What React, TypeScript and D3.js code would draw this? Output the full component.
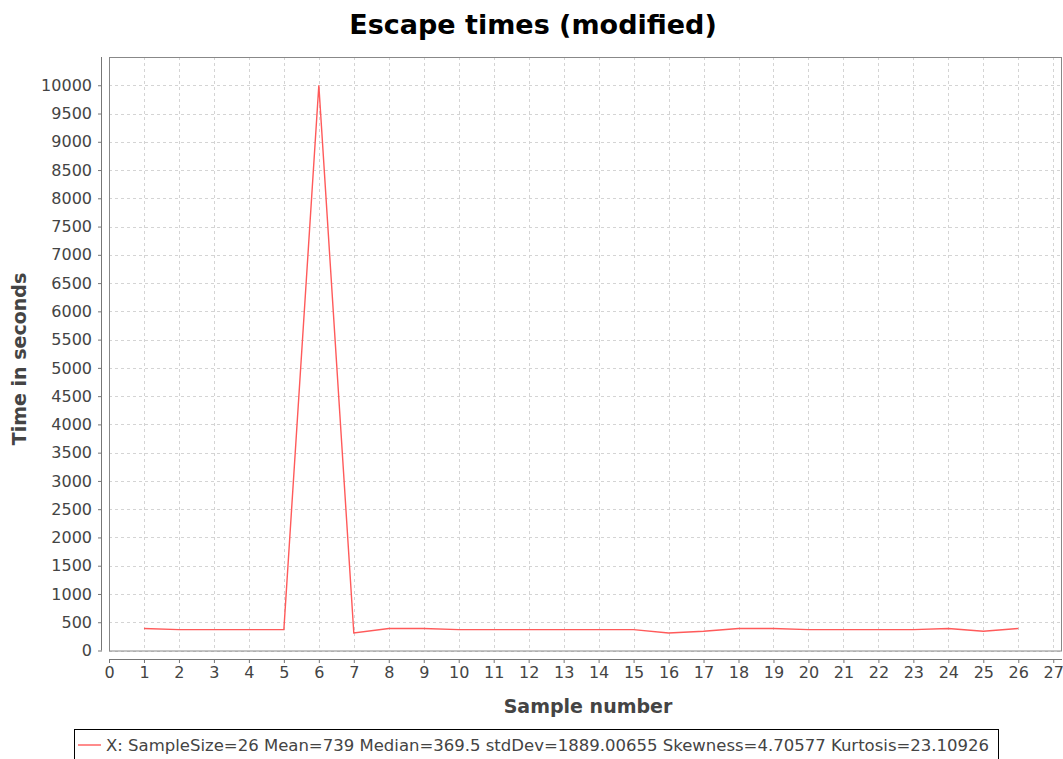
import React, { useEffect, useRef } from "react";
import * as d3 from "d3";

// sample numbers and escape times
const samples = [1, 2, 3, 4, 5, 6, 7, 8, 9, 10, 11, 12, 13, 14, 15, 16, 17, 18, 19, 20, 21, 22, 23, 24, 25, 26];
const times = [390, 369, 370, 370, 370, 10000, 310, 390, 390, 370, 370, 370, 370, 370, 370, 310, 340, 390, 390, 370, 370, 370, 370, 390, 340, 390];

const xTicks = d3.range(0, 28);
const yTicks = d3.range(0, 10001, 500);

const title = "Escape times (modified)";
const xLabel = "Sample number";
const yLabel = "Time in seconds";
const legendText = "X: SampleSize=26 Mean=739 Median=369.5 stdDev=1889.00655 Skewness=4.70577 Kurtosis=23.10926";

const App = () => {
  const svgRef = useRef<SVGSVGElement>(null);

  useEffect(() => {
    const svg = d3.select(svgRef.current);
    svg.selectAll("*").remove();

    const width = 1063;
    const height = 759;
    const plot = { left: 109, right: 1062, top: 57, bottom: 650.5 };
    const font = "DejaVu Sans, sans-serif";

    const x = d3.scaleLinear().domain([0, 27.25]).range([plot.left, plot.right]);
    const y = d3.scaleLinear().domain([0, 10500]).range([plot.bottom, plot.top]);

    svg.append("rect").attr("width", width).attr("height", height).attr("fill", "#fff");

    // grid
    const grid = svg.append("g").attr("stroke", "#d4d4d4").attr("stroke-dasharray", "3,3").attr("stroke-width", 1);
    grid.selectAll("line.v")
      .data(xTicks)
      .enter()
      .append("line")
      .attr("x1", d => Math.round(x(d)) + 0.5)
      .attr("x2", d => Math.round(x(d)) + 0.5)
      .attr("y1", plot.top)
      .attr("y2", plot.bottom);
    grid.selectAll("line.h")
      .data(yTicks)
      .enter()
      .append("line")
      .attr("x1", plot.left)
      .attr("x2", plot.right)
      .attr("y1", d => Math.round(y(d)) + 0.5)
      .attr("y2", d => Math.round(y(d)) + 0.5);

    // plot border
    svg.append("rect")
      .attr("x", plot.left + 0.5)
      .attr("y", plot.top + 0.5)
      .attr("width", plot.right - plot.left - 1)
      .attr("height", plot.bottom - plot.top)
      .attr("fill", "none")
      .attr("stroke", "#888");

    // axes
    const xAxis = svg.append("g")
      .attr("transform", "translate(0,659)")
      .call(d3.axisBottom(x).tickValues(xTicks).tickSize(4).tickPadding(4).tickSizeOuter(0));
    xAxis.select(".domain").attr("stroke", "#777").attr("d", `M${plot.left},0.5H${plot.right}`);
    xAxis.selectAll(".tick line").attr("stroke", "#777");
    xAxis.selectAll("text").attr("fill", "#444").style("font-family", font).style("font-size", "16px");

    const yAxis = svg.append("g")
      .attr("transform", "translate(102,0)")
      .call(d3.axisLeft(y).tickValues(yTicks).tickFormat(d3.format("d")).tickSize(4).tickPadding(6).tickSizeOuter(0));
    yAxis.select(".domain").attr("stroke", "#777").attr("d", `M-0.5,${plot.top}V${plot.bottom}`);
    yAxis.selectAll(".tick line").attr("stroke", "#777");
    yAxis.selectAll("text").attr("fill", "#444").style("font-family", font).style("font-size", "16px");

    // series line
    const line = d3.line<number>()
      .x((d, i) => x(samples[i]))
      .y(d => y(d));
    svg.append("path")
      .datum(times)
      .attr("d", line)
      .attr("fill", "none")
      .attr("stroke", "#ff5a5a")
      .attr("stroke-width", 1.4);

    // title
    svg.append("text")
      .attr("x", 533)
      .attr("y", 34)
      .attr("text-anchor", "middle")
      .style("font-family", font)
      .style("font-weight", "bold")
      .style("font-size", "27px")
      .attr("fill", "#000")
      .text(title);

    // axis labels
    svg.append("text")
      .attr("x", 588)
      .attr("y", 713)
      .attr("text-anchor", "middle")
      .style("font-family", font)
      .style("font-weight", "bold")
      .style("font-size", "19px")
      .attr("fill", "#444")
      .text(xLabel);

    svg.append("text")
      .attr("transform", "translate(26,359) rotate(-90)")
      .attr("text-anchor", "middle")
      .style("font-family", font)
      .style("font-weight", "bold")
      .style("font-size", "19px")
      .attr("fill", "#444")
      .text(yLabel);

    // legend
    svg.append("rect")
      .attr("x", 74.5)
      .attr("y", 729.5)
      .attr("width", 924)
      .attr("height", 40)
      .attr("fill", "#fff")
      .attr("stroke", "#000");
    svg.append("line")
      .attr("x1", 78)
      .attr("x2", 101)
      .attr("y1", 745)
      .attr("y2", 745)
      .attr("stroke", "#ff5a5a")
      .attr("stroke-width", 1.4);
    svg.append("text")
      .attr("x", 106)
      .attr("y", 751)
      .style("font-family", font)
      .style("font-size", "16.5px")
      .attr("fill", "#444")
      .text(legendText);
  }, []);

  return (
    <svg ref={svgRef} width={1063} height={759} style={{ position: "absolute", left: 0, top: 0 }} />
  );
};

export default App;
